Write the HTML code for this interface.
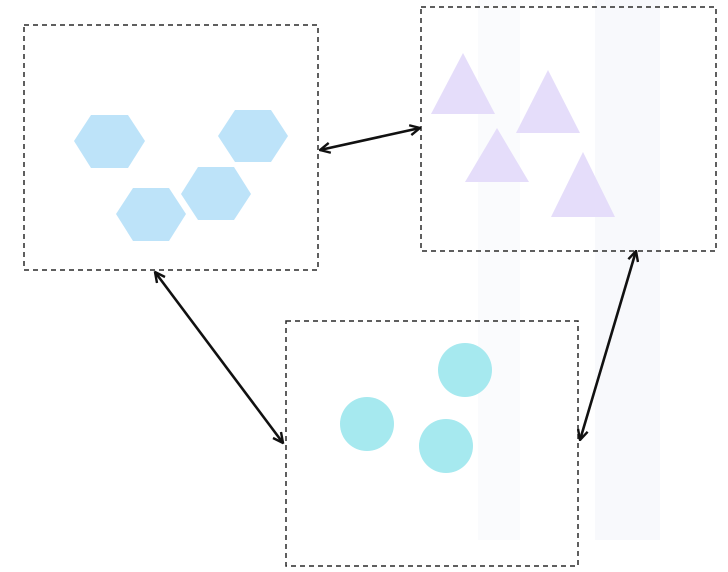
<!DOCTYPE html>
<html><head><meta charset="utf-8"><style>
html,body{margin:0;padding:0;background:#fff;width:728px;height:572px;overflow:hidden}
</style></head><body>
<svg width="728" height="572" viewBox="0 0 728 572" xmlns="http://www.w3.org/2000/svg">
<defs>
<marker id="a" viewBox="0 0 12 12" refX="11" refY="6" markerWidth="12" markerHeight="12" orient="auto-start-reverse" markerUnits="userSpaceOnUse">
<path d="M1,1 L11,6 L1,11" fill="none" stroke="#111" stroke-width="2.4"/>
</marker>
</defs>
<rect x="478" y="0" width="42" height="540" fill="#fafbfd"/>
<rect x="595" y="0" width="65" height="540" fill="#f8f9fc"/>
<g fill="none" stroke="#2a2a2a" stroke-width="1.5" stroke-dasharray="5,4">
<rect x="24" y="25" width="294" height="245"/>
<rect x="421" y="7" width="295" height="244"/>
<rect x="286" y="321" width="292" height="245"/>
</g>
<g fill="#bde3f9">
<polygon points="74,141 91,115 128,115 145,141 128,168 91,168"/>
<polygon points="218,136 235,110 271,110 288,136 271,162 235,162"/>
<polygon points="181,194 198,167 234,167 251,194 234,220 198,220"/>
<polygon points="116,214 133,188 169,188 186,214 169,241 133,241"/>
</g>
<g fill="#e5ddfa">
<polygon points="463,53 495,114 431,114"/>
<polygon points="548,70 580,133 516,133"/>
<polygon points="497,128 529,182 465,182"/>
<polygon points="583,152 615,217 551,217"/>
</g>
<g fill="#a6e9ef">
<ellipse cx="465" cy="370" rx="27" ry="27"/>
<ellipse cx="367" cy="424" rx="27" ry="27"/>
<ellipse cx="446" cy="446" rx="27" ry="27"/>
</g>
<g stroke="#111" stroke-width="2.6" fill="none" marker-start="url(#a)" marker-end="url(#a)">
<line x1="320" y1="150" x2="420" y2="128"/>
<line x1="155" y1="272" x2="283" y2="443"/>
<line x1="636" y1="251" x2="580" y2="440"/>
</g>
</svg>
</body></html>
